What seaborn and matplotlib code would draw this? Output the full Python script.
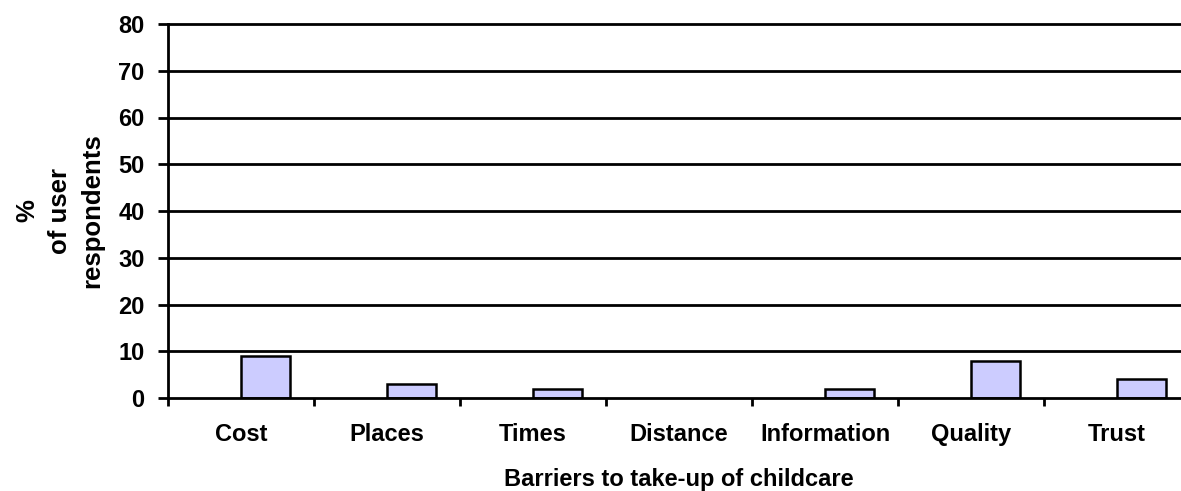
import matplotlib
matplotlib.use("Agg")
import matplotlib.pyplot as plt
import seaborn as sns
import pandas as pd
import numpy as np

categories = ["Cost", "Places", "Times", "Distance", "Information", "Quality", "Trust"]
values = [9, 3, 2, 0, 2, 8, 4]
yticks = [0, 10, 20, 30, 40, 50, 60, 70, 80]

sns.set_theme(style="white")
plt.rcParams['font.family'] = ['Liberation Sans', 'DejaVu Sans']
plt.rcParams['font.weight'] = 'bold'
plt.rcParams['text.color'] = 'black'
plt.rcParams['axes.labelcolor'] = 'black'
plt.rcParams['xtick.color'] = 'black'
plt.rcParams['ytick.color'] = 'black'

df = pd.DataFrame({
    "cat": categories * 2,
    "val": [0] * len(categories) + values,
    "series": ["blank"] * len(categories) + ["users"] * len(categories),
})

fig = plt.figure(figsize=(11.81, 4.91), dpi=100)
ax = fig.add_axes([168 / 1181, 1 - 398 / 491, 1022 / 1181, (398 - 24) / 491])

sns.barplot(data=df, x="cat", y="val", hue="series", order=categories,
            hue_order=["blank", "users"], palette=["#CCCCFF", "#CCCCFF"],
            width=0.67, edgecolor="black", linewidth=1.8, saturation=1,
            legend=False, ax=ax, zorder=3)

n = len(categories)
for i, p in enumerate(ax.patches):
    if i < n or p.get_height() == 0:
        p.set_visible(False)

ax.set_xlim(-0.5, n - 0.5)
ax.set_ylim(0, 80)
ax.set_yticks(yticks)
ax.set_yticklabels([str(t) for t in yticks], fontsize=17, fontweight='bold')
for t in yticks[1:]:
    ax.axhline(t, color="black", linewidth=2.0, zorder=1, clip_on=False)

ax.set_xticks(range(n))
ax.set_xticklabels(categories, fontsize=17, fontweight='bold')
ax.set_xticks(np.arange(-0.5, n, 1.0), minor=True)
ax.tick_params(axis='x', which='major', bottom=True, length=0, pad=18)
ax.tick_params(axis='x', which='minor', bottom=True, length=6, width=2.0, color='black', direction='out')
ax.tick_params(axis='y', which='major', left=True, length=7, width=2.0, color='black', direction='out', pad=10)

for s in ["top", "right"]:
    ax.spines[s].set_visible(False)
for s in ["left", "bottom"]:
    ax.spines[s].set_color("black")
    ax.spines[s].set_linewidth(2.0)
    ax.spines[s].set_zorder(4)

ax.set_xlabel("Barriers to take-up of childcare", fontsize=17, fontweight='bold', labelpad=16)
ax.set_ylabel("%\nof user\nrespondents", fontsize=18.5, fontweight='bold', labelpad=10,
              linespacing=1.45)
ax.grid(False)

fig.savefig("out.png", dpi=100)
